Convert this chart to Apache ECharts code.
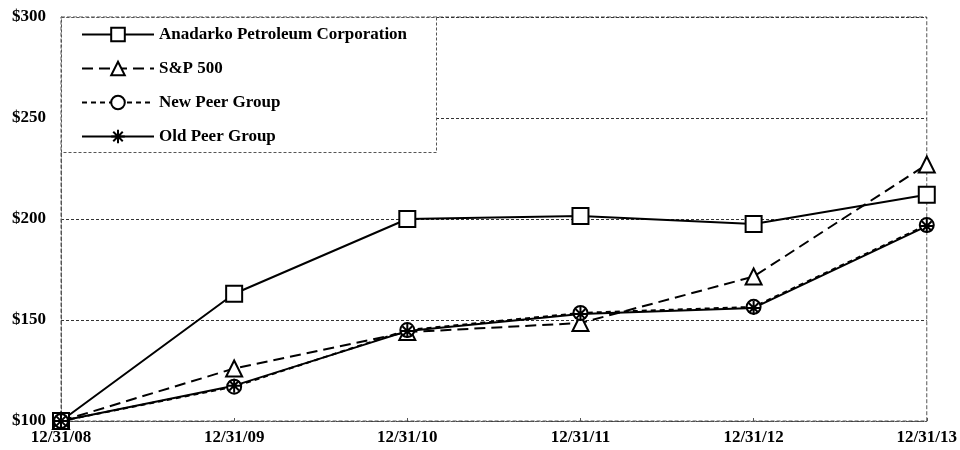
<!DOCTYPE html>
<html><head><meta charset="utf-8">
<script src="https://cdn.jsdelivr.net/npm/echarts@6/dist/echarts.min.js"></script>
<style>html,body{margin:0;padding:0;background:#fff}#c{width:960px;height:450px}</style>
</head><body><div id="c"></div>
<script>
const categories = ['12/31/08','12/31/09','12/31/10','12/31/11','12/31/12','12/31/13'];
const anadarko = [100, 163, 200, 201.5, 197.5, 212];
const sp500 = [100, 126, 144, 148.5, 171.5, 227];
const newPeer = [100, 117, 145, 153.5, 156.5, 197];
const oldPeer = [100, 117.5, 144.5, 153, 156, 196.5];
const yTicks = [100, 150, 200, 250, 300];

const font = '"Liberation Serif","Times New Roman",serif';
const asterisk = 'path://M10,0 L10,20 M0,10 L20,10 M3,3 L17,17 M17,3 L3,17';
const chart = echarts.init(document.getElementById('c'));
function s(name, data, symbol, size, lineType) {
  return {
    name, type: 'line', data, symbol, symbolSize: size,
    showAllSymbol: true,
    lineStyle: {color: '#000', width: 2, type: lineType},
    itemStyle: {color: '#000', borderColor: '#000', borderWidth: 1.5},
    emphasis: {disabled: true}, animation: false
  };
}
const series = [
  s('Anadarko Petroleum Corporation', anadarko, 'emptyRect', 16, 'solid'),
  s('S&P 500', sp500, 'emptyTriangle', 16, [11, 6]),
  s('New Peer Group', newPeer, 'emptyCircle', 14, [5, 4]),
  s('Old Peer Group', oldPeer, asterisk, 14, 'solid')
];
series[3].itemStyle = {color: '#000', borderColor: '#000', borderWidth: 2};
chart.setOption({
  animation: false,
  grid: {left: 61, right: 32, top: 17, bottom: 29, show: true, borderColor: '#555', borderWidth: 1, borderType: 'dashed'},
  legend: {
    orient: 'vertical', left: 76, top: 21, itemGap: 17, itemWidth: 72, itemHeight: 17,
    textStyle: {fontFamily: font, fontWeight: 'bold', fontSize: 17, color: '#000'},
    data: series.map(x => x.name)
  },
  graphic: [{type: 'rect', left: 61, top: 17, shape: {width: 375, height: 135},
    style: {fill: '#fff', stroke: '#555', lineWidth: 1, lineDash: [3, 2]}, z: 3}],
  xAxis: {
    type: 'category', data: categories, boundaryGap: false,
    axisLine: {lineStyle: {color: '#555', type: 'dashed'}},
    axisTick: {inside: true, length: 3, lineStyle: {color: '#555'}},
    axisLabel: {fontFamily: font, fontWeight: 'bold', fontSize: 17, color: '#000', margin: 8}
  },
  yAxis: {
    type: 'value', min: yTicks[0], max: yTicks[yTicks.length - 1], interval: 50,
    axisLine: {show: true, lineStyle: {color: '#555', type: 'dashed'}},
    axisTick: {show: false},
    splitLine: {lineStyle: {color: '#333', type: [3, 2]}},
    axisLabel: {fontFamily: font, fontWeight: 'bold', fontSize: 17, color: '#000', margin: 15,
      formatter: v => '$' + v}
  },
  series
});
</script></body></html>
